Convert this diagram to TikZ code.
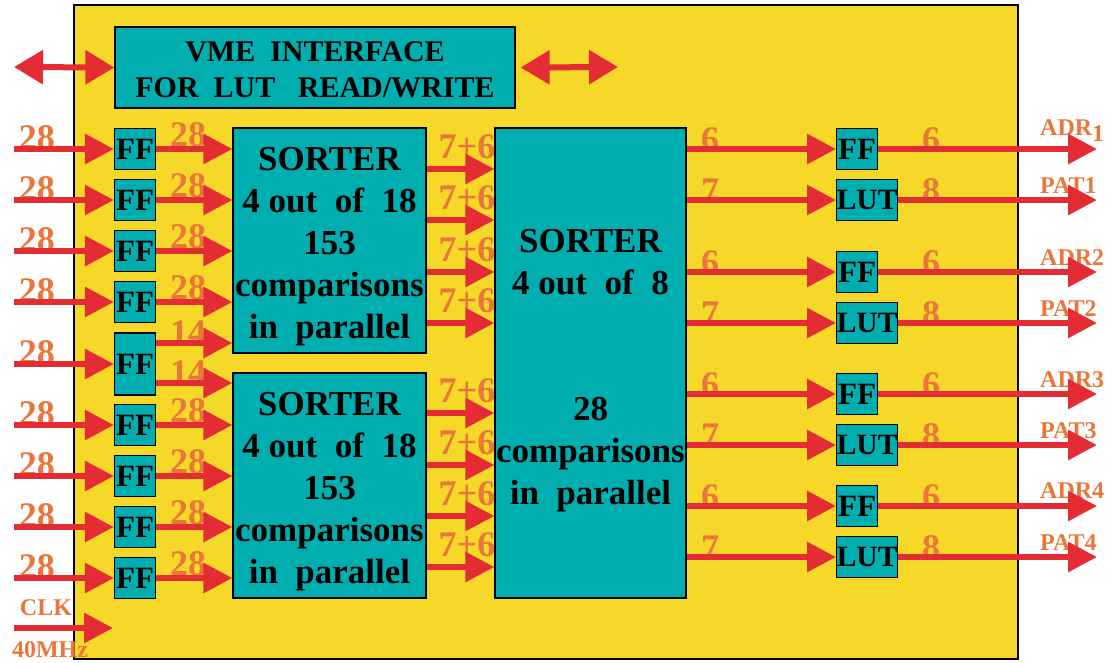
\documentclass[tikz,border=0pt]{standalone}
\usepackage{fontspec}
\setmainfont{Liberation Serif}
\usetikzlibrary{arrows.meta,positioning,calc}

\definecolor{boardyellow}{RGB}{246,216,40}
\definecolor{blockteal}{RGB}{0,173,175}
\definecolor{busred}{RGB}{228,44,52}
\definecolor{numorange}{RGB}{234,118,58}

\newcommand{\sortfont}{\bfseries\fontsize{35}{42}\selectfont}
\newcommand{\vmefont}{\bfseries\fontsize{30}{36}\selectfont}

\tikzset{
  blk/.style={draw=black, fill=blockteal, line width=1.2pt, inner sep=0pt},
  ffbox/.style={blk, minimum width=41pt, minimum height=41pt, font=\bfseries\fontsize{31}{31}\selectfont},
  lutbox/.style={blk, minimum width=61pt, minimum height=41pt, font=\bfseries\fontsize{29.5}{30}\selectfont},
  sorttext/.style={align=center, inner sep=0pt, font=\sortfont},
  bus/.style={busred, line width=6pt, -{Triangle[length=29pt,width=29pt]}},
  bibus/.style={busred, line width=6pt, {Triangle[length=29pt,width=33pt]}-{Triangle[length=29pt,width=33pt]}},
  num/.style={text=numorange, inner sep=0pt, font=\bfseries\fontsize{36}{36}\selectfont},
  sig/.style={text=numorange, inner sep=0pt, font=\bfseries\fontsize{24}{24}\selectfont},
}

\begin{document}
\begin{tikzpicture}[x=1pt,y=-1pt]
    \useasboundingbox (0,0) rectangle (1112,662);
    \fill[white] (0,0) rectangle (1112,662);

    % board
    \draw[fill=boardyellow, line width=1.5pt] (74,5) rectangle (1018,659);

    % VME interface
    \node[blk, minimum width=400pt, minimum height=81pt] (vme) at (315,67.5) {};
    \node[align=center, inner sep=0pt, font=\vmefont] (vmetxt) at ([yshift=-2pt]vme.center)
        {VME\ \ INTERFACE\\FOR\ \ LUT\ \ \ READ/WRITE};
    \coordinate (vmeL) at (14,67);
    \coordinate (vmeR) at (618,67);
    \draw[bibus] (vmeL) -- (vme.west);
    \draw[bibus] ([xshift=5pt]vme.east) -- (vmeR);

    % input flip-flops
    \foreach \i/\y in {1/149,2/200,3/251,4/302,6/425,7/476,8/527,9/578}
        \node[ffbox] (ffi\i) at (135,\y) {FF};
    \node[ffbox, minimum height=62pt] (ffi5) at (135,364) {FF};

    % sorters
    \node[blk, minimum width=193pt, minimum height=225pt] (sortA) at (329.5,240.5) {};
    \node[sorttext] (sortAtxt) at ([yshift=-6pt]sortA.center)
        {SORTER\\4 out\ \ of\ \ 18\\153\\comparisons\\in\ \ parallel};
    \node[blk, minimum width=193pt, minimum height=225pt] (sortB) at (329.5,485.5) {};
    \node[sorttext] (sortBtxt) at ([yshift=-6pt]sortB.center)
        {SORTER\\4 out\ \ of\ \ 18\\153\\comparisons\\in\ \ parallel};
    \node[blk, minimum width=191pt, minimum height=470pt] (sortC) at (590.5,363) {};
    \node[sorttext] (sortCtxt) at ([yshift=-8pt]sortC.center)
        {SORTER\\4 out\ \ of\ \ 8\\[84pt]28\\comparisons\\in\ \ parallel};

    % inputs
    \coordinate (srcx) at (14,0);
    \foreach \i in {1,...,9} {
        \node[num] (lin\i) at ($(srcx |- ffi\i)+(23,-11)$) {28};
        \draw[bus] (srcx |- ffi\i) -- (ffi\i);
    }

    % flip-flops to sorters
    \foreach \i in {1,...,4} {
        \node[num] (lmid\i) at ($(ffi\i.east)+(32,-14)$) {28};
        \draw[bus] (ffi\i) -- (sortA.west |- ffi\i);
    }
    \coordinate (f5a) at ([yshift=21pt]ffi5.east);
    \coordinate (f5b) at ([yshift=-19pt]ffi5.east);
    \node[num] (lmid5a) at ($(f5a)+(32,-10)$) {14};
    \draw[bus] (f5a) -- (f5a -| sortA.west);
    \node[num] (lmid5b) at ($(f5b)+(32,-10)$) {14};
    \draw[bus] (f5b) -- (f5b -| sortB.west);
    \foreach \i in {6,...,9} {
        \node[num] (lmid\i) at ($(ffi\i.east)+(32,-14)$) {28};
        \draw[bus] (ffi\i) -- (sortB.west |- ffi\i);
    }

    % sorter outputs
    \foreach \y [count=\k] in {169,220,272,323} {
        \node[num] (lsa\k) at (467,\y-22) {7+6};
        \draw[bus] (sortA.east |- 0,\y) -- (sortC.west |- 0,\y);
    }
    \foreach \y [count=\k] in {413,465,516,567} {
        \node[num] (lsb\k) at (467,\y-22) {7+6};
        \draw[bus] (sortB.east |- 0,\y) -- (sortC.west |- 0,\y);
    }

    % output registers and look-up tables
    \coordinate (outx) at (1097,0);
    \foreach \k/\ya/\yb/\up/\adr in {1/149/200/14/{ADR\raisebox{-6pt}{1}},2/272/323/7/ADR2,3/394/445/7/ADR3,4/506/557/8/ADR4} {
        \node[ffbox, anchor=west] (ffo\k) at (836,\ya) {FF};
        \node[lutbox, anchor=west] (lut\k) at (836,\yb) {LUT};
        \node[num] (la\k) at (710,\ya-9) {6};
        \node[num] (lb\k) at (710,\yb-9) {7};
        \draw[bus] (sortC.east |- ffo\k) -- (ffo\k);
        \draw[bus] (sortC.east |- lut\k) -- (lut\k);
        \node[num] (lc\k) at (931,\ya-9) {6};
        \node[num] (ld\k) at (931,\yb-9) {8};
        \node[sig, anchor=base west] (adr\k) at (1040,\ya-\up) {\adr};
        \node[sig, anchor=base west] (pat\k) at (1040,\yb-7) {PAT\k};
        \draw[bus] (ffo\k) -- (outx |- ffo\k);
        \draw[bus] (lut\k) -- (outx |- lut\k);
    }

    % clock
    \coordinate (clkin) at (14,628);
    \coordinate (clkend) at (113,628);
    \node[sig] (clk) at (46,608) {CLK};
    \node[sig] (freq) at (50,650) {40MHz};
    \draw[bus] (clkin) -- (clkend);
\end{tikzpicture}
\end{document}
